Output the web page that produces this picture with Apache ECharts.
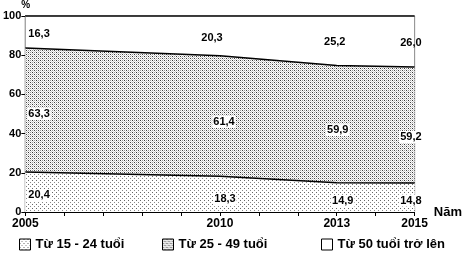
<!DOCTYPE html>
<html><head><meta charset="utf-8">
<script src="https://cdn.jsdelivr.net/npm/echarts@6/dist/echarts.min.js"></script>
<style>html,body{margin:0;padding:0;background:#fff}#c{width:465px;height:264px}</style>
</head><body><div id="c"></div>
<script>
var years = [2005, 2010, 2013, 2015];
var shownYears = [2005, 2010, 2013, 2015];
var group15_24 = [20.4, 18.3, 14.9, 14.8];
var group25_49 = [63.3, 61.4, 59.9, 59.2];
var group50plus = [16.3, 20.3, 25.2, 26.0];
var seriesNames = ['Từ 15 - 24 tuổi', 'Từ 25 - 49 tuổi', 'Từ 50 tuổi trở lên'];
var yTicks = [0, 20, 40, 60, 80, 100];

function makePattern(dots, size) {
  var c = document.createElement('canvas');
  c.width = size; c.height = size;
  var g = c.getContext('2d');
  g.fillStyle = '#fff'; g.fillRect(0, 0, size, size);
  dots.forEach(function (d) { g.fillStyle = d[2]; g.fillRect(d[0], d[1], 1, 1); });
  return { image: c, repeat: 'repeat' };
}
var sparse = makePattern([[0,0,'#666'],[2,2,'#888']], 4);
var dense = makePattern([[0,0,'#333'],[2,2,'#444'],[2,0,'#999'],[0,2,'#999'],[1,1,'#ccc'],[3,3,'#ccc'],[1,3,'#ddd'],[3,1,'#ddd']], 4);

var FONT = 'Liberation Sans';
var layers = [group15_24, group25_49, group50plus];
var fills = [sparse, dense, '#fff'];

var cumul = layers.map(function (vals, i) {
  return years.map(function (y, k) {
    var s = 0;
    for (var j = 0; j <= i; j++) s += layers[j][k];
    return s;
  });
});

var series = [];
for (var i = layers.length - 1; i >= 0; i--) {
  (function (i) {
    series.push({
      name: seriesNames[i], type: 'line', symbol: 'none',
      data: years.map(function (y, k) { return [y, cumul[i][k]]; }),
      lineStyle: { color: '#000', width: 1.5 },
      itemStyle: { color: '#000' },
      areaStyle: { color: fills[i], opacity: 1, origin: 'start' },
      z: 2 + (layers.length - i)
    });
  })(i);
}

// pixel nudges for value labels (band index -> per-year)
var nudgeX = [[2, 5, 6, 8], [2, 4, 1, 8], [2, -8, -2, 8]];
var nudgeY = [[3, 5, 4, 3], [4, 6, 6, 12], [2, 2, 1, 1]];
var labelData = [];
layers.forEach(function (vals, i) {
  years.forEach(function (y, k) {
    var mid = cumul[i][k] - vals[k] / 2;
    var last = k === years.length - 1;
    var align = k === 0 ? 'left' : (last ? 'right' : 'center');
    labelData.push({
      value: [y, mid],
      label: {
        show: true, position: [nudgeX[i][k], nudgeY[i][k]], align: align, verticalAlign: 'middle',
        formatter: vals[k].toFixed(1).replace('.', ','),
        backgroundColor: i === 2 ? 'transparent' : '#fff', padding: [1, 1, 0, 1]
      }
    });
  });
});
series.push({
  type: 'scatter', symbolSize: 0, itemStyle: { color: '#000', opacity: 1 }, silent: true, z: 10,
  data: labelData,
  label: { color: '#000', opacity: 1, textBorderWidth: 0, fontFamily: FONT, fontWeight: 'bold', fontSize: 11 }
});

var legendLefts = [14, 157, 316];
var chart = echarts.init(document.getElementById('c'), null, { renderer: 'canvas' });
chart.setOption({
  animation: false,
  backgroundColor: '#fff',
  grid: { left: 25, right: 40, top: 16, bottom: 52, show: true, borderColor: '#000', borderWidth: 1, containLabel: false },
  xAxis: {
    type: 'value', min: 2005, max: 2015, interval: 1,
    name: 'Năm', nameLocation: 'end', nameGap: 5,
    nameTextStyle: { color: '#000', fontFamily: FONT, fontWeight: 'bold', fontSize: 13, verticalAlign: 'middle' },
    axisLine: { lineStyle: { color: '#000', width: 1 } },
    axisTick: { show: true, length: 4, lineStyle: { color: '#000' } },
    splitLine: { show: false },
    axisLabel: {
      color: '#000', fontFamily: FONT, fontWeight: 'bold', fontSize: 12, margin: 6,
      showMinLabel: true, showMaxLabel: true,
      formatter: function (v) { return shownYears.indexOf(v) >= 0 ? String(v) : ''; }
    }
  },
  yAxis: {
    type: 'value', min: 0, max: 100, interval: 20,
    name: '%', nameLocation: 'end', nameGap: 2,
    nameTextStyle: { color: '#000', fontFamily: FONT, fontWeight: 'bold', fontSize: 10, align: 'left', padding: [0,0,0,-4] },
    axisLine: { show: true, lineStyle: { color: '#000', width: 1 } },
    axisTick: { show: true, length: 4, lineStyle: { color: '#000' } },
    splitLine: { show: false },
    axisLabel: {
      color: '#000', fontFamily: FONT, fontWeight: 'bold', fontSize: 11, margin: 4,
      formatter: function (v) { return yTicks.indexOf(v) >= 0 ? String(v) : ''; }
    }
  },
  legend: seriesNames.map(function (n, i) {
    return {
      bottom: 8, left: legendLefts[i], itemWidth: 11, itemHeight: 11,
      textStyle: { color: '#000', fontFamily: FONT, fontWeight: 'bold', fontSize: 13 },
      data: [{ name: n, icon: 'rect', itemStyle: { color: fills[i], borderColor: '#000', borderWidth: 1 } }]
    };
  }),
  series: series
});
</script></body></html>
